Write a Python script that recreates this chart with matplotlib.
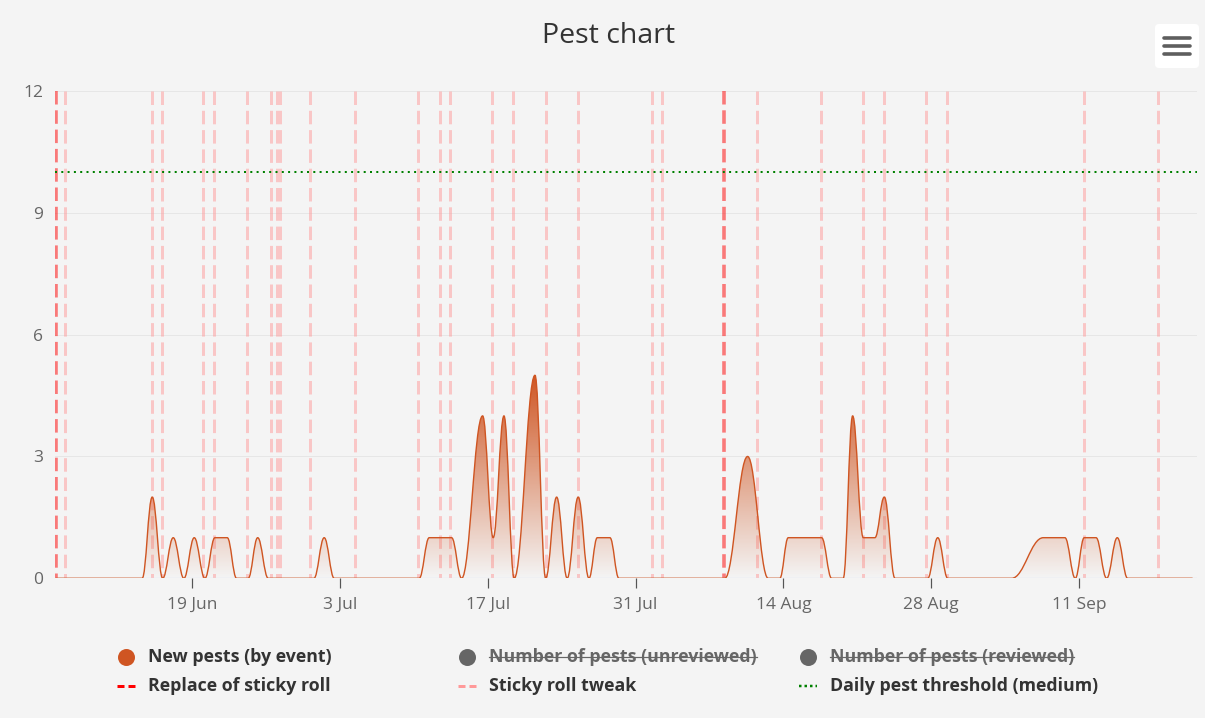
import matplotlib
matplotlib.use("Agg")
import matplotlib.pyplot as plt
import matplotlib.dates as mdates
from matplotlib.path import Path
from matplotlib.patches import PathPatch, FancyBboxPatch
from matplotlib.lines import Line2D
from matplotlib.transforms import IdentityTransform
from matplotlib.colors import to_rgb
import numpy as np
import pandas as pd

plt.rcParams['font.family'] = ['Open Sans', 'DejaVu Sans']
plt.rcParams['lines.scale_dashes'] = False

# ---------------- data ----------------
event_times = [
    "2023-06-06 02:10", "2023-06-14 06:14", "2023-06-15 05:02", "2023-06-16 04:48",
    "2023-06-17 04:48", "2023-06-18 05:02", "2023-06-19 04:34", "2023-06-20 04:48",
    "2023-06-21 03:36", "2023-06-22 07:41", "2023-06-23 04:48", "2023-06-24 07:12",
    "2023-06-25 04:48", "2023-06-26 04:48", "2023-06-30 12:43", "2023-07-01 12:00",
    "2023-07-02 10:48", "2023-07-10 12:00", "2023-07-11 10:48", "2023-07-13 13:41",
    "2023-07-14 12:29", "2023-07-16 12:14", "2023-07-17 12:14", "2023-07-18 12:43",
    "2023-07-19 12:00", "2023-07-21 11:17", "2023-07-22 11:31", "2023-07-23 12:29",
    "2023-07-24 12:29", "2023-07-25 13:26", "2023-07-26 13:55", "2023-07-27 08:53",
    "2023-07-28 13:41", "2023-07-29 10:05", "2023-08-08 10:48", "2023-08-10 14:38",
    "2023-08-12 13:26", "2023-08-13 15:50", "2023-08-14 11:02", "2023-08-17 14:53",
    "2023-08-18 13:41", "2023-08-19 16:05", "2023-08-20 13:26", "2023-08-21 13:41",
    "2023-08-22 16:05", "2023-08-23 13:26", "2023-08-24 13:41", "2023-08-27 16:05",
    "2023-08-28 14:53", "2023-08-29 13:41", "2023-09-04 14:53", "2023-09-07 14:53",
    "2023-09-09 16:05", "2023-09-10 15:36", "2023-09-11 12:00", "2023-09-12 14:53",
    "2023-09-13 14:53", "2023-09-14 15:07", "2023-09-15 14:38", "2023-09-21 17:31",
]
new_pests = [
    0, 0, 2, 0,
    1, 0, 1, 0,
    1, 1, 0, 0,
    1, 0, 0, 1,
    0, 0, 1, 1,
    0, 4, 1, 4,
    0, 5, 0, 2,
    0, 2, 0, 1,
    1, 0, 0, 3,
    0, 0, 1, 1,
    0, 0, 4, 1,
    1, 2, 0, 0,
    1, 0, 0, 1,
    1, 0, 1, 1,
    0, 1, 0, 0,
]

replace_times = ["2023-06-06 02:10", "2023-08-08 08:53"]
tweak_times = [
    "2023-06-06 22:34", "2023-06-15 03:36", "2023-06-16 02:24", "2023-06-20 01:00",
    "2023-06-21 01:55", "2023-06-24 03:36", "2023-06-26 11:02", "2023-06-27 01:12",
    "2023-06-27 07:12", "2023-06-30 03:36", "2023-07-04 09:50", "2023-07-10 09:50",
    "2023-07-12 11:17", "2023-07-13 09:50", "2023-07-17 10:05", "2023-07-19 09:50",
    "2023-07-22 11:31", "2023-07-25 12:14", "2023-08-01 13:55", "2023-08-02 11:17",
    "2023-08-11 11:17", "2023-08-17 13:26", "2023-08-21 13:41", "2023-08-23 13:26",
    "2023-08-27 12:00", "2023-08-29 12:29", "2023-09-11 11:17", "2023-09-18 12:00",
]
threshold_medium = 10

x_range = ["2023-06-06 00:00", "2023-09-22 04:20"]
xtick_dates = ["2023-06-19", "2023-07-03", "2023-07-17", "2023-07-31",
               "2023-08-14", "2023-08-28", "2023-09-11"]
xtick_labels = ["19 Jun", "3 Jul", "17 Jul", "31 Jul", "14 Aug", "28 Aug", "11 Sep"]
yticks = [0, 3, 6, 9, 12]

legend_labels = ["New pests (by event)", "Number of pests (unreviewed)",
                 "Number of pests (reviewed)", "Replace of sticky roll",
                 "Sticky roll tweak", "Daily pest threshold (medium)"]

# ---------------- style ----------------
BG = '#f4f4f4'
SERIES = '#cf5522'
W, H = 1205, 718
PX = 0.72  # points per pixel at dpi 100

def num(ts):
    return mdates.date2num(pd.to_datetime(ts).to_pydatetime())

def spline_path(xs, ys, smoothing=1.5):
    """Highcharts-style spline through the points (cubic Bezier segments)."""
    n = len(xs)
    lc = [(xs[i], ys[i]) for i in range(n)]
    rc = [(xs[i], ys[i]) for i in range(n)]
    d = smoothing + 1
    for i in range(1, n - 1):
        px, py = xs[i], ys[i]
        lx, ly = xs[i - 1], ys[i - 1]
        nx, ny = xs[i + 1], ys[i + 1]
        lcx = (smoothing * px + lx) / d
        lcy = (smoothing * py + ly) / d
        rcx = (smoothing * px + nx) / d
        rcy = (smoothing * py + ny) / d
        if rcx != lcx:
            corr = ((rcy - lcy) * (rcx - px)) / (rcx - lcx) + py - rcy
            lcy += corr
            rcy += corr
        if lcy > ly and lcy > py:
            lcy = max(ly, py); rcy = 2 * py - lcy
        elif lcy < ly and lcy < py:
            lcy = min(ly, py); rcy = 2 * py - lcy
        if rcy > ny and rcy > py:
            rcy = max(ny, py); lcy = 2 * py - rcy
        elif rcy < ny and rcy < py:
            rcy = min(ny, py); lcy = 2 * py - rcy
        lc[i] = (lcx, lcy)
        rc[i] = (rcx, rcy)
    verts = [(xs[0], ys[0])]
    codes = [Path.MOVETO]
    for i in range(1, n):
        verts += [rc[i - 1], lc[i], (xs[i], ys[i])]
        codes += [Path.CURVE4] * 3
    return verts, codes

fig = plt.figure(figsize=(W / 100, H / 100), dpi=100, facecolor=BG)
ax = fig.add_axes([55 / W, (H - 578.3) / H, (1197 - 55) / W, (578.3 - 91) / H])
ax.set_facecolor(BG)

xs = num(event_times)
ys = np.array(new_pests, dtype=float)
xmin, xmax = num(x_range)
ymax = yticks[-1]

# vertical event lines
for t in num(tweak_times):
    ax.plot([t, t], [ymax, 0], color='#ff9999', alpha=0.5, lw=3 * PX,
            dashes=(13.5 * PX, 5.8 * PX), solid_capstyle='butt', zorder=1)
for t in num(replace_times):
    ax.plot([t, t], [ymax, 0], color='#ff0000', alpha=0.5, lw=3.6 * PX,
            dashes=(13.5 * PX, 5.8 * PX), zorder=1.1)

# threshold
ax.axhline(threshold_medium, color='#008000', lw=2 * PX,
           dashes=(2 * PX, 4.3 * PX), zorder=1.5)

# area spline
verts, codes = spline_path(list(xs), list(ys))
area_verts = verts + [(xs[-1], 0), (xs[0], 0), (xs[0], 0)]
area_codes = codes + [Path.LINETO, Path.LINETO, Path.CLOSEPOLY]
area_patch = PathPatch(Path(area_verts, area_codes), facecolor='none',
                       edgecolor='none', transform=ax.transData)
ax.add_patch(area_patch)
rgba = np.zeros((256, 1, 4))
rgba[..., :3] = to_rgb(SERIES)
rgba[..., 3] = np.linspace(0.0, 1.0, 256).reshape(-1, 1)
im = ax.imshow(rgba, extent=[xmin, xmax, 0, ys.max()], origin='lower',
               aspect='auto', interpolation='bilinear', zorder=2)
im.set_clip_path(area_patch)
ax.add_patch(PathPatch(Path(verts, codes), facecolor='none', edgecolor=SERIES,
                       lw=1.4 * PX, zorder=3, capstyle='round',
                       joinstyle='round'))

ax.set_xlim(xmin, xmax)
ax.set_ylim(0, ymax)
ax.set_aspect('auto')

# axes styling
for s in ax.spines.values():
    s.set_visible(False)
ax.axhline(0, color='#ccd6eb', lw=1.2 * PX, zorder=2.5)
ax.set_yticks(yticks)
ax.set_yticklabels([str(v) for v in yticks])
ax.grid(axis='y', color='#e6e6e6', lw=1 * PX)
ax.set_axisbelow(True)
ax.tick_params(axis='y', length=0, pad=12 * PX, labelsize=12.5, labelcolor='#666666')
ax.set_xticks(num(xtick_dates))
ax.set_xticklabels(xtick_labels)
ax.tick_params(axis='x', direction='out', length=10 * PX, width=1.2 * PX,
               color='#555555', pad=8.5 * PX, labelsize=12.5, labelcolor='#666666')

# title
fig.text(609 / W, 1 - 36 / H, "Pest chart", ha='center', va='center',
         fontsize=20.5, color='#333333')

# menu button
T = IdentityTransform()
fig.add_artist(FancyBboxPatch((1155, H - 68), 44, 44,
                              boxstyle="round,pad=0,rounding_size=4",
                              facecolor='white', edgecolor='none', transform=T))
for yy in (38, 45.5, 53.5):
    fig.add_artist(Line2D([1164, 1190], [H - yy, H - yy], color='#5e5e5e',
                          lw=3.6 * PX, solid_capstyle='round', transform=T))

# legend
def fy(y):
    return H - y

rows = [657, 686]
cols_sym = [126, 467, 808]
cols_txt = [148, 489, 830]
texts = []
for i, lab in enumerate(legend_labels):
    r, c = divmod(i, 3)
    hidden = (r == 0 and c > 0)
    tcol = '#666666' if hidden else '#333333'
    t = fig.text(cols_txt[c], fy(rows[r]), lab, transform=T, ha='left',
                 va='center', fontsize=12.8, fontweight='bold', color=tcol)
    texts.append((t, hidden))
# symbols row 1
fig.add_artist(Line2D([cols_sym[0]], [fy(rows[0])], marker='o', ms=17 * PX,
                      color=SERIES, mec='none', transform=T))
for c in (1, 2):
    fig.add_artist(Line2D([cols_sym[c]], [fy(rows[0])], marker='o', ms=17 * PX,
                          color='#666666', mec='none', transform=T))
# symbols row 2
fig.add_artist(Line2D([cols_sym[0] - 9, cols_sym[0] + 9], [fy(rows[1])] * 2,
                      color='#ff0000', lw=3 * PX, dashes=(7 * PX, 4 * PX),
                      transform=T))
fig.add_artist(Line2D([cols_sym[1] - 9, cols_sym[1] + 9], [fy(rows[1])] * 2,
                      color='#ff9999', lw=3 * PX, dashes=(7 * PX, 4 * PX),
                      transform=T))
fig.add_artist(Line2D([cols_sym[2] - 9, cols_sym[2] + 9], [fy(rows[1])] * 2,
                      color='#008000', lw=2.5 * PX, dashes=(2.5 * PX, 3 * PX),
                      transform=T))

fig.canvas.draw()
renderer = fig.canvas.get_renderer()
for t, hidden in texts:
    if hidden:
        bb = t.get_window_extent(renderer)
        ym = (bb.y0 + bb.y1) / 2
        fig.add_artist(Line2D([bb.x0, bb.x1], [ym, ym], color='#666666',
                              lw=1.2 * PX, transform=T))

fig.savefig("out.png", dpi=100, facecolor=BG)
